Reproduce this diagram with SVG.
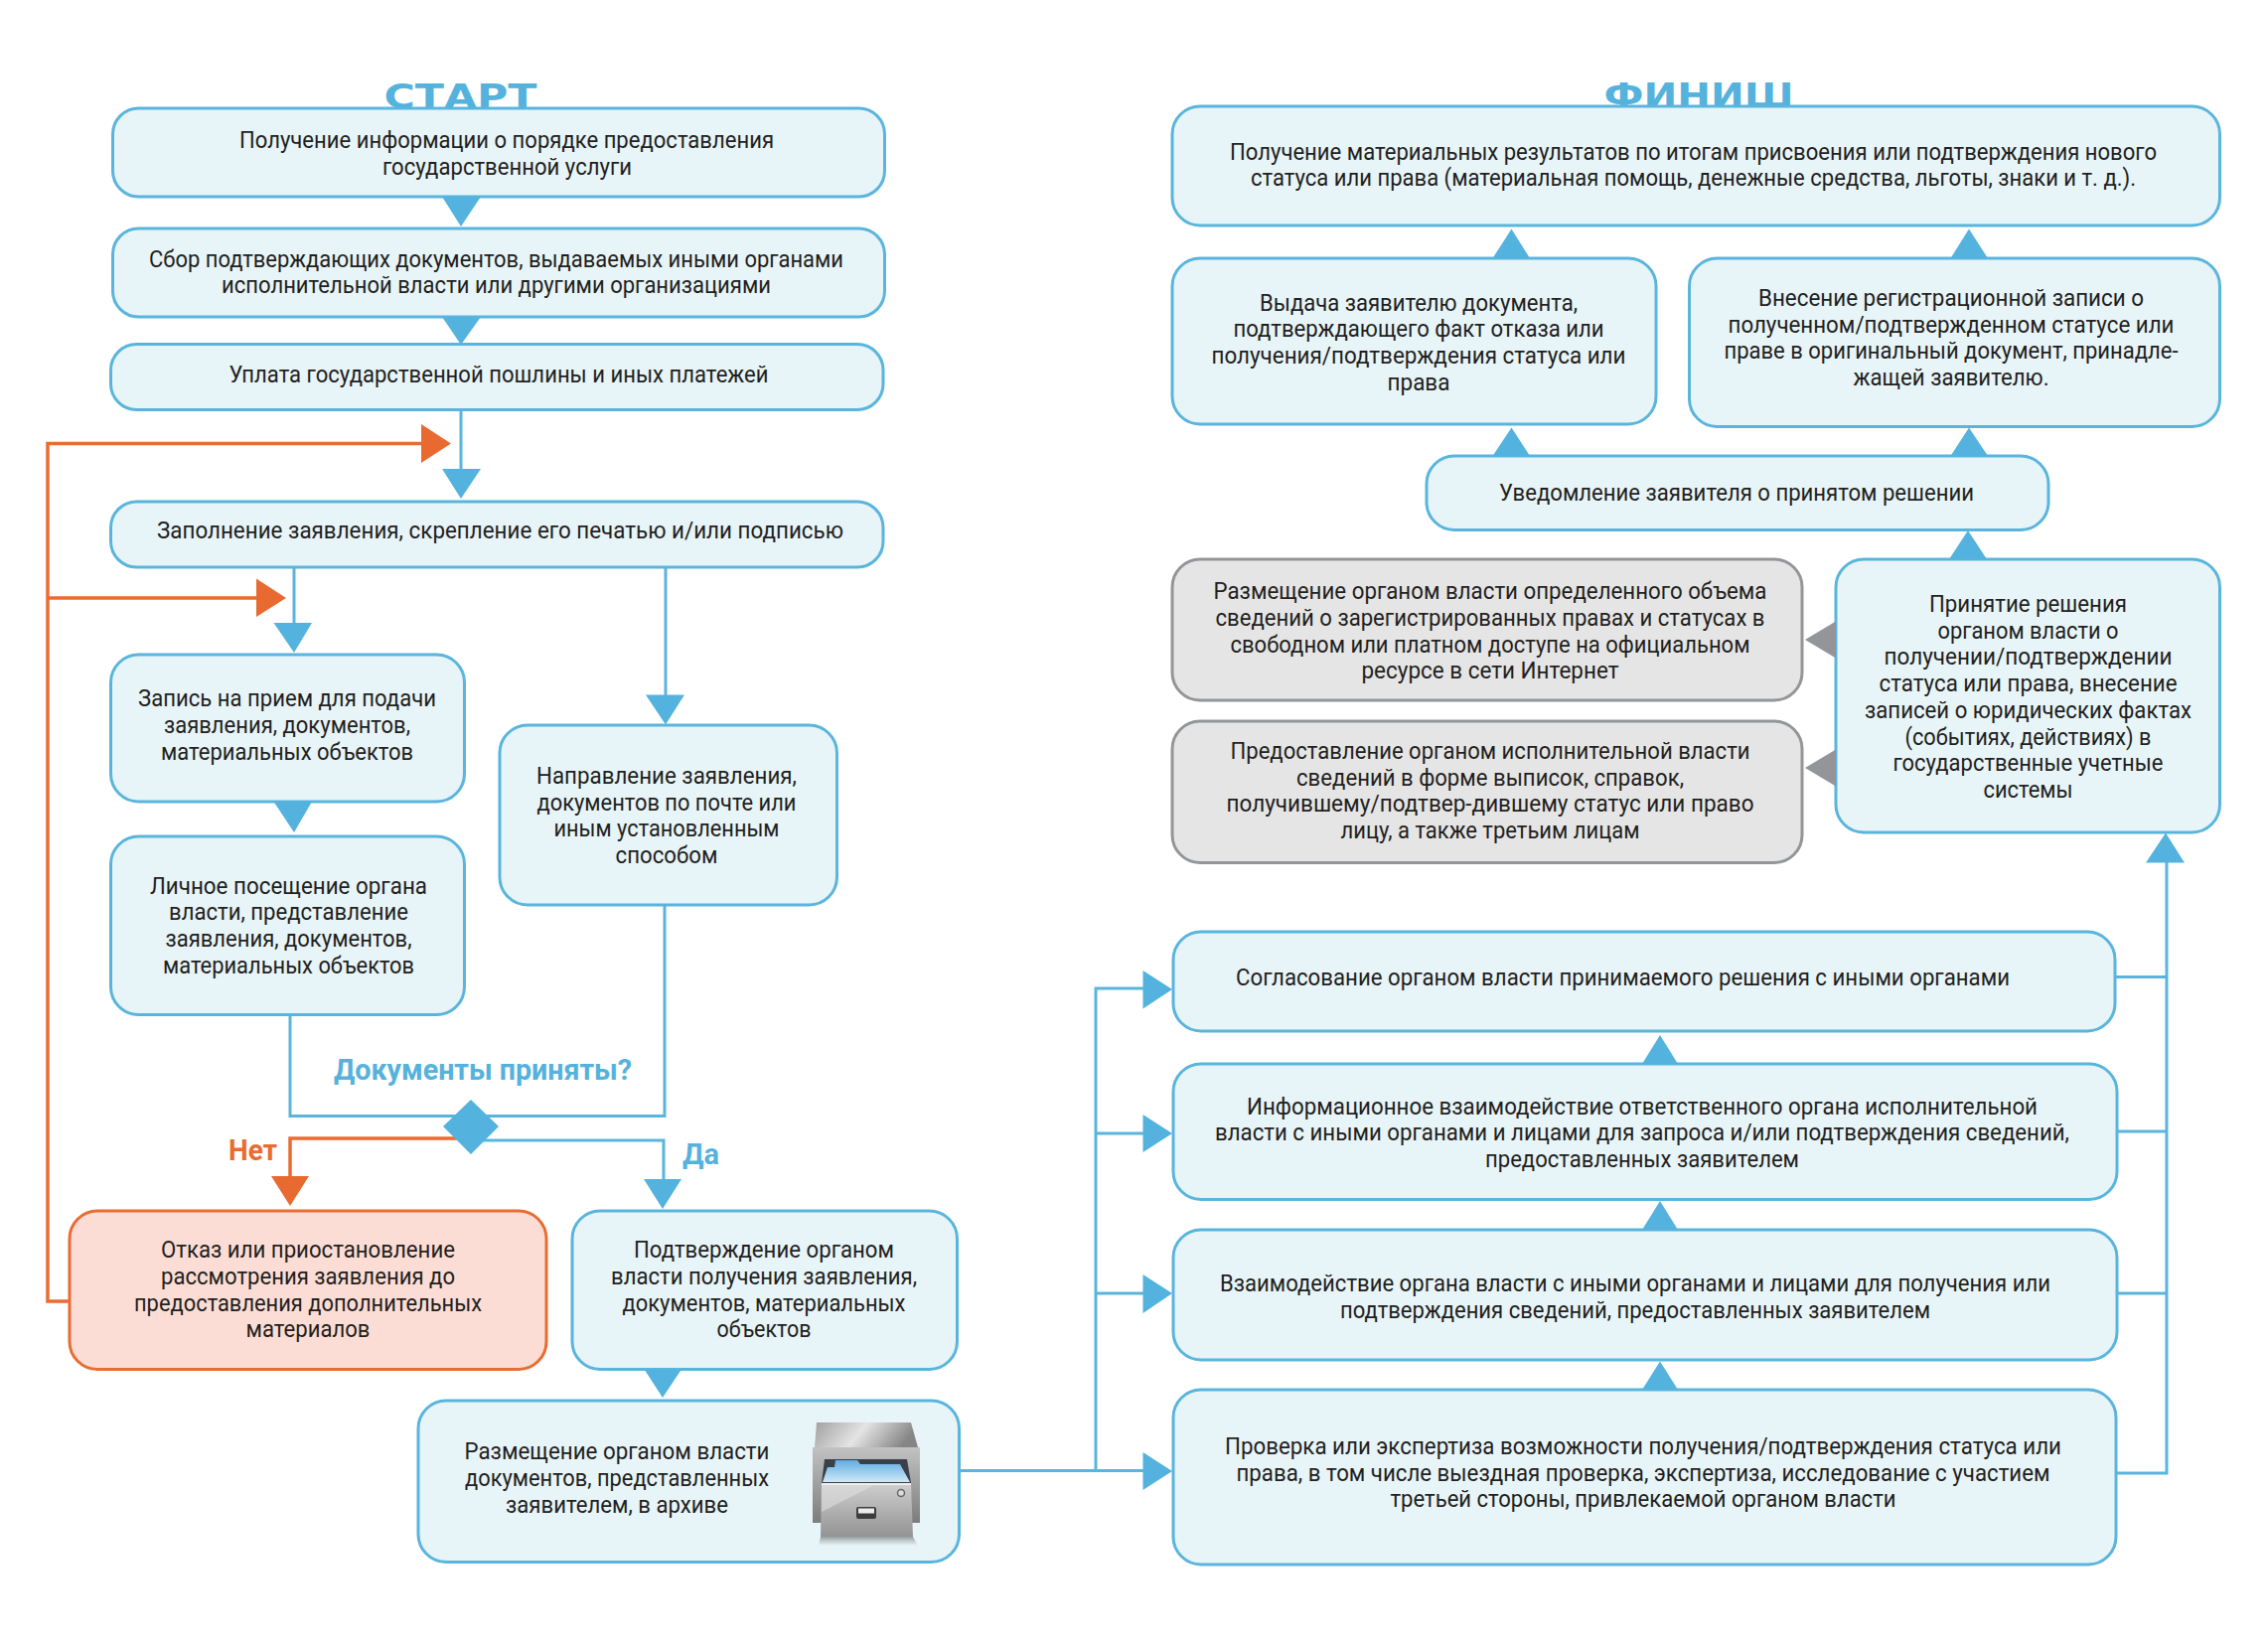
<svg xmlns="http://www.w3.org/2000/svg" width="2283" height="1654" viewBox="0 0 2283 1654">
<style>
text{font-family:"Roboto","Liberation Sans",sans-serif;font-size:23px;fill:#231f20;text-anchor:middle}
.b{fill:#e7f4f8;stroke:#5ab5dd;stroke-width:3}
.g{fill:#e5e5e5;stroke:#939598;stroke-width:3}
.r{fill:#fcddd5;stroke:#e96c32;stroke-width:3}
.title{font-family:"DejaVu Sans",sans-serif;font-weight:bold;font-size:33px;fill:#55b2dd}
.lb{font-weight:bold;font-size:30px;fill:#55b2dd}
.lo{font-weight:bold;font-size:30px;fill:#e96c32}
.cb{fill:none;stroke:#5ab5dd;stroke-width:3}
.co{fill:none;stroke:#e96c32;stroke-width:3.5}
.ab{fill:#54b3de}.ao{fill:#e96a30}.ag{fill:#939598}
</style>
<defs>
<linearGradient id="lid" x1="0" y1="0" x2="1" y2="0.2"><stop offset="0" stop-color="#a0a0a0"/><stop offset="0.5" stop-color="#e4e4e4"/><stop offset="1" stop-color="#858585"/></linearGradient>
<linearGradient id="front" x1="0" y1="0" x2="0" y2="1"><stop offset="0" stop-color="#cfcfcf"/><stop offset="1" stop-color="#939393"/></linearGradient>
<linearGradient id="body" x1="0" y1="0" x2="0" y2="1"><stop offset="0" stop-color="#c2c2c2"/><stop offset="1" stop-color="#7c7c7c"/></linearGradient>
<linearGradient id="fold" x1="0" y1="0" x2="0" y2="1"><stop offset="0" stop-color="#62ade2"/><stop offset="1" stop-color="#cfe8f7"/></linearGradient>
<linearGradient id="shade" x1="0" y1="0" x2="0" y2="1"><stop offset="0" stop-color="#555" stop-opacity="0.55"/><stop offset="1" stop-color="#777" stop-opacity="0"/></linearGradient>
</defs>
<text class="title" x="463.5" y="108.5" textLength="154" lengthAdjust="spacingAndGlyphs">СТАРТ</text>
<text class="title" x="1710" y="108" textLength="191" lengthAdjust="spacingAndGlyphs">ФИНИШ</text>
<g id="n1"><rect class="b" x="113.5" y="109" width="777" height="89" rx="26"/>
<text x="510" y="149" textLength="538" lengthAdjust="spacingAndGlyphs">Получение информации о порядке предоставления</text>
<text x="510.5" y="176" textLength="251" lengthAdjust="spacingAndGlyphs">государственной услуги</text></g>
<g id="n2"><rect class="b" x="113.5" y="230" width="777" height="89" rx="26"/>
<text x="499.5" y="268.5" textLength="699" lengthAdjust="spacingAndGlyphs">Сбор подтверждающих документов, выдаваемых иными органами</text>
<text x="499.5" y="295" textLength="553" lengthAdjust="spacingAndGlyphs">исполнительной власти или другими организациями</text></g>
<g id="n3"><rect class="b" x="111.5" y="346.5" width="777.5" height="66" rx="26"/>
<text x="502" y="385" textLength="543" lengthAdjust="spacingAndGlyphs">Уплата государственной пошлины и иных платежей</text></g>
<g id="n4"><rect class="b" x="111.5" y="505" width="777.5" height="66" rx="26"/>
<text x="503.5" y="542" textLength="691" lengthAdjust="spacingAndGlyphs">Заполнение заявления, скрепление его печатью и/или подписью</text></g>
<g id="n5"><rect class="b" x="111.5" y="659" width="356" height="148" rx="28"/>
<text x="289" y="711" textLength="300" lengthAdjust="spacingAndGlyphs">Запись на прием для подачи</text>
<text x="289" y="738" textLength="248" lengthAdjust="spacingAndGlyphs">заявления, документов,</text>
<text x="289" y="765" textLength="254" lengthAdjust="spacingAndGlyphs">материальных объектов</text></g>
<g id="n6"><rect class="b" x="111.5" y="842" width="356" height="179.5" rx="28"/>
<text x="290.5" y="900" textLength="279" lengthAdjust="spacingAndGlyphs">Личное посещение органа</text>
<text x="290.5" y="926" textLength="241" lengthAdjust="spacingAndGlyphs">власти, представление</text>
<text x="290.5" y="953" textLength="248" lengthAdjust="spacingAndGlyphs">заявления, документов,</text>
<text x="290.5" y="980" textLength="253" lengthAdjust="spacingAndGlyphs">материальных объектов</text></g>
<g id="n7"><rect class="b" x="503" y="730" width="339.5" height="181" rx="28"/>
<text x="671" y="788.5" textLength="262" lengthAdjust="spacingAndGlyphs">Направление заявления,</text>
<text x="671" y="815.5" textLength="261" lengthAdjust="spacingAndGlyphs">документов по почте или</text>
<text x="671" y="842" textLength="227" lengthAdjust="spacingAndGlyphs">иным установленным</text>
<text x="671" y="869" textLength="103" lengthAdjust="spacingAndGlyphs">способом</text></g>
<g id="n8"><rect class="r" x="70" y="1219" width="480" height="159.5" rx="28"/>
<text x="310" y="1265.5" textLength="296" lengthAdjust="spacingAndGlyphs">Отказ или приостановление</text>
<text x="310" y="1292.5" textLength="296" lengthAdjust="spacingAndGlyphs">рассмотрения заявления до</text>
<text x="310" y="1319.5" textLength="350" lengthAdjust="spacingAndGlyphs">предоставления дополнительных</text>
<text x="310" y="1346" textLength="125" lengthAdjust="spacingAndGlyphs">материалов</text></g>
<g id="n9"><rect class="b" x="576" y="1219" width="387.5" height="159.5" rx="28"/>
<text x="769" y="1265.5" textLength="262" lengthAdjust="spacingAndGlyphs">Подтверждение органом</text>
<text x="769" y="1292.5" textLength="308" lengthAdjust="spacingAndGlyphs">власти получения заявления,</text>
<text x="769" y="1319.5" textLength="285" lengthAdjust="spacingAndGlyphs">документов, материальных</text>
<text x="769" y="1346" textLength="95" lengthAdjust="spacingAndGlyphs">объектов</text></g>
<g id="n10"><rect class="b" x="421" y="1410" width="544.5" height="162.5" rx="28"/>
<text x="621" y="1469" textLength="307" lengthAdjust="spacingAndGlyphs">Размещение органом власти</text>
<text x="621" y="1496" textLength="306" lengthAdjust="spacingAndGlyphs">документов, представленных</text>
<text x="621" y="1522.5" textLength="224" lengthAdjust="spacingAndGlyphs">заявителем, в архиве</text>
<g id="archive-icon">
<path d="M822 1432H917L924 1457H820Z" fill="url(#lid)"/>
<path d="M818 1457H926V1533H818Z" fill="url(#body)"/>
<path d="M830 1469H913L917 1493H827Z" fill="#3a4048"/>
<path d="M841 1470H863L866 1474H906L916 1492H828L833 1477H840Z" fill="url(#fold)"/>
<path d="M827 1493H917L919 1547H826Z" fill="url(#front)"/>
<path d="M827 1495H880L827 1522Z" fill="#dedede" opacity="0.6"/>
<path d="M827 1493H917V1495H827Z" fill="#efefef"/>
<rect x="862" y="1517" width="20" height="12" rx="2" fill="#3d3d3d"/>
<rect x="864" y="1518.5" width="16" height="5" fill="#ececec"/>
<circle cx="907" cy="1503" r="3.5" fill="#dcdcdc" stroke="#666" stroke-width="1.5"/>
<path d="M826 1547H919L924 1556H824Z" fill="url(#shade)"/>
</g></g>
<g id="n11"><rect class="b" x="1180" y="107" width="1054.5" height="120" rx="28"/>
<text x="1704.5" y="160.5" textLength="933" lengthAdjust="spacingAndGlyphs">Получение материальных результатов по итогам присвоения или подтверждения нового</text>
<text x="1704.5" y="186.5" textLength="891" lengthAdjust="spacingAndGlyphs">статуса или права (материальная помощь, денежные средства, льготы, знаки и т. д.).</text></g>
<g id="n12"><rect class="b" x="1180" y="260" width="487" height="167" rx="28"/>
<text x="1428" y="312.5" textLength="320" lengthAdjust="spacingAndGlyphs">Выдача заявителю документа,</text>
<text x="1428" y="339" textLength="373" lengthAdjust="spacingAndGlyphs">подтверждающего факт отказа или</text>
<text x="1428" y="366" textLength="417" lengthAdjust="spacingAndGlyphs">получения/подтверждения статуса или</text>
<text x="1428" y="392.5" textLength="63" lengthAdjust="spacingAndGlyphs">права</text></g>
<g id="n13"><rect class="b" x="1700.5" y="260" width="534" height="169.5" rx="28"/>
<text x="1964" y="307.5" textLength="388" lengthAdjust="spacingAndGlyphs">Внесение регистрационной записи о</text>
<text x="1964" y="334.5" textLength="449" lengthAdjust="spacingAndGlyphs">полученном/подтвержденном статусе или</text>
<text x="1964" y="361" textLength="457" lengthAdjust="spacingAndGlyphs">праве в оригинальный документ, принадле-</text>
<text x="1964" y="388" textLength="197" lengthAdjust="spacingAndGlyphs">жащей заявителю.</text></g>
<g id="n14"><rect class="b" x="1436" y="459" width="626" height="74.5" rx="28"/>
<text x="1748" y="504" textLength="478" lengthAdjust="spacingAndGlyphs">Уведомление заявителя о принятом решении</text></g>
<g id="n15"><rect class="g" x="1180" y="563" width="634" height="142" rx="28"/>
<text x="1500" y="602.5" textLength="557" lengthAdjust="spacingAndGlyphs">Размещение органом власти определенного объема</text>
<text x="1500" y="629.5" textLength="553" lengthAdjust="spacingAndGlyphs">сведений о зарегистрированных правах и статусах в</text>
<text x="1500" y="656.5" textLength="523" lengthAdjust="spacingAndGlyphs">свободном или платном доступе на официальном</text>
<text x="1500" y="683" textLength="259" lengthAdjust="spacingAndGlyphs">ресурсе в сети Интернет</text></g>
<g id="n16"><rect class="g" x="1180" y="726" width="634" height="142.5" rx="28"/>
<text x="1500" y="763.5" textLength="523" lengthAdjust="spacingAndGlyphs">Предоставление органом исполнительной власти</text>
<text x="1500" y="790.5" textLength="390" lengthAdjust="spacingAndGlyphs">сведений в форме выписок, справок,</text>
<text x="1500" y="817" textLength="531" lengthAdjust="spacingAndGlyphs">получившему/подтвер-дившему статус или право</text>
<text x="1500" y="843.5" textLength="301" lengthAdjust="spacingAndGlyphs">лицу, а также третьим лицам</text></g>
<g id="n17"><rect class="b" x="1848" y="563" width="386.5" height="275" rx="28"/>
<text x="2041.5" y="615.5" textLength="199" lengthAdjust="spacingAndGlyphs">Принятие решения</text>
<text x="2041.5" y="642.5" textLength="182" lengthAdjust="spacingAndGlyphs">органом власти о</text>
<text x="2041.5" y="669" textLength="290" lengthAdjust="spacingAndGlyphs">получении/подтверждении</text>
<text x="2041.5" y="696" textLength="300" lengthAdjust="spacingAndGlyphs">статуса или права, внесение</text>
<text x="2041.5" y="722.5" textLength="329" lengthAdjust="spacingAndGlyphs">записей о юридических фактах</text>
<text x="2041.5" y="749.5" textLength="248" lengthAdjust="spacingAndGlyphs">(событиях, действиях) в</text>
<text x="2041.5" y="776" textLength="272" lengthAdjust="spacingAndGlyphs">государственные учетные</text>
<text x="2041.5" y="803" textLength="90" lengthAdjust="spacingAndGlyphs">системы</text></g>
<g id="n18"><rect class="b" x="1181" y="938" width="948" height="100" rx="28"/>
<text x="1633.5" y="992" textLength="779" lengthAdjust="spacingAndGlyphs">Согласование органом власти принимаемого решения с иными органами</text></g>
<g id="n19"><rect class="b" x="1181" y="1071" width="950" height="136.5" rx="28"/>
<text x="1653" y="1121.5" textLength="796" lengthAdjust="spacingAndGlyphs">Информационное взаимодействие ответственного органа исполнительной</text>
<text x="1653" y="1148" textLength="860" lengthAdjust="spacingAndGlyphs">власти с иными органами и лицами для запроса и/или подтверждения сведений,</text>
<text x="1653" y="1175" textLength="316" lengthAdjust="spacingAndGlyphs">предоставленных заявителем</text></g>
<g id="n20"><rect class="b" x="1181" y="1238" width="950" height="131" rx="28"/>
<text x="1646" y="1300" textLength="836" lengthAdjust="spacingAndGlyphs">Взаимодействие органа власти с иными органами и лицами для получения или</text>
<text x="1646" y="1327" textLength="594" lengthAdjust="spacingAndGlyphs">подтверждения сведений, предоставленных заявителем</text></g>
<g id="n21"><rect class="b" x="1181" y="1399" width="949" height="176" rx="28"/>
<text x="1654" y="1464" textLength="842" lengthAdjust="spacingAndGlyphs">Проверка или экспертиза возможности получения/подтверждения статуса или</text>
<text x="1654" y="1490.5" textLength="819" lengthAdjust="spacingAndGlyphs">права, в том числе выездная проверка, экспертиза, исследование с участием</text>
<text x="1654" y="1517" textLength="509" lengthAdjust="spacingAndGlyphs">третьей стороны, привлекаемой органом власти</text></g>
<g id="connectors">
<path class="cb" d="M464 412V475M296 571V630M670 571V702M669 911V1123.5H292V1021.5M480 1148H668V1190M965.5 1480.5H1153M1103 1480.5V995H1153M1103 1141H1153M1103 1302H1153M2129 983.5H2181M2131 1139H2181M2131 1302H2181M2130 1483H2181V865"/>
<path class="co" d="M70 1310H48V446.5H426M48 602H260M465 1146H292V1188"/>
<path class="ab" d="M445 198H484L464 228ZM445 319H484L464 347ZM445 472H484L464 502ZM275.5 627H314L296 657ZM650 699.5H689L670 729.5ZM275.5 807H314L296 838ZM648 1187H686L667 1217ZM648.5 1378.5H686L667 1407Z"/>
<path class="ab" d="M1502.5 260H1540L1521.5 230.5ZM1963.5 260H2001L1982 230.5ZM1502.5 459H1540L1521.5 430.5ZM1963.5 459H2001L1982 430.5ZM1962 563H2000L1981 534ZM2160 868.5H2199L2180 838.5ZM1653 1071H1689L1671 1042ZM1653 1238H1689L1671 1209ZM1653 1399H1689L1671 1370.5Z"/>
<path class="ab" d="M1150.5 977V1015.5L1180 996ZM1150.5 1122V1160L1180 1141ZM1150.5 1283V1322L1180 1302ZM1150.5 1462V1500L1180 1481Z"/>
<path class="ao" d="M424 427V466L454 446.5ZM258 582.5V621L288 602ZM273 1184H311L292 1214Z"/>
<path class="ag" d="M1848 625.5V662.5L1817 644ZM1848 754.5V791.5L1817 773Z"/>
</g>
<g id="decision"><path class="ab" d="M474 1107L502 1134L474 1162L446 1134Z"/>
<text class="lb" x="486" y="1087" textLength="300" lengthAdjust="spacingAndGlyphs">Документы приняты?</text></g>
<text class="lo" x="254.5" y="1168" textLength="49" lengthAdjust="spacingAndGlyphs">Нет</text>
<text class="lb" x="705.5" y="1172" textLength="37" lengthAdjust="spacingAndGlyphs">Да</text>
</svg>
